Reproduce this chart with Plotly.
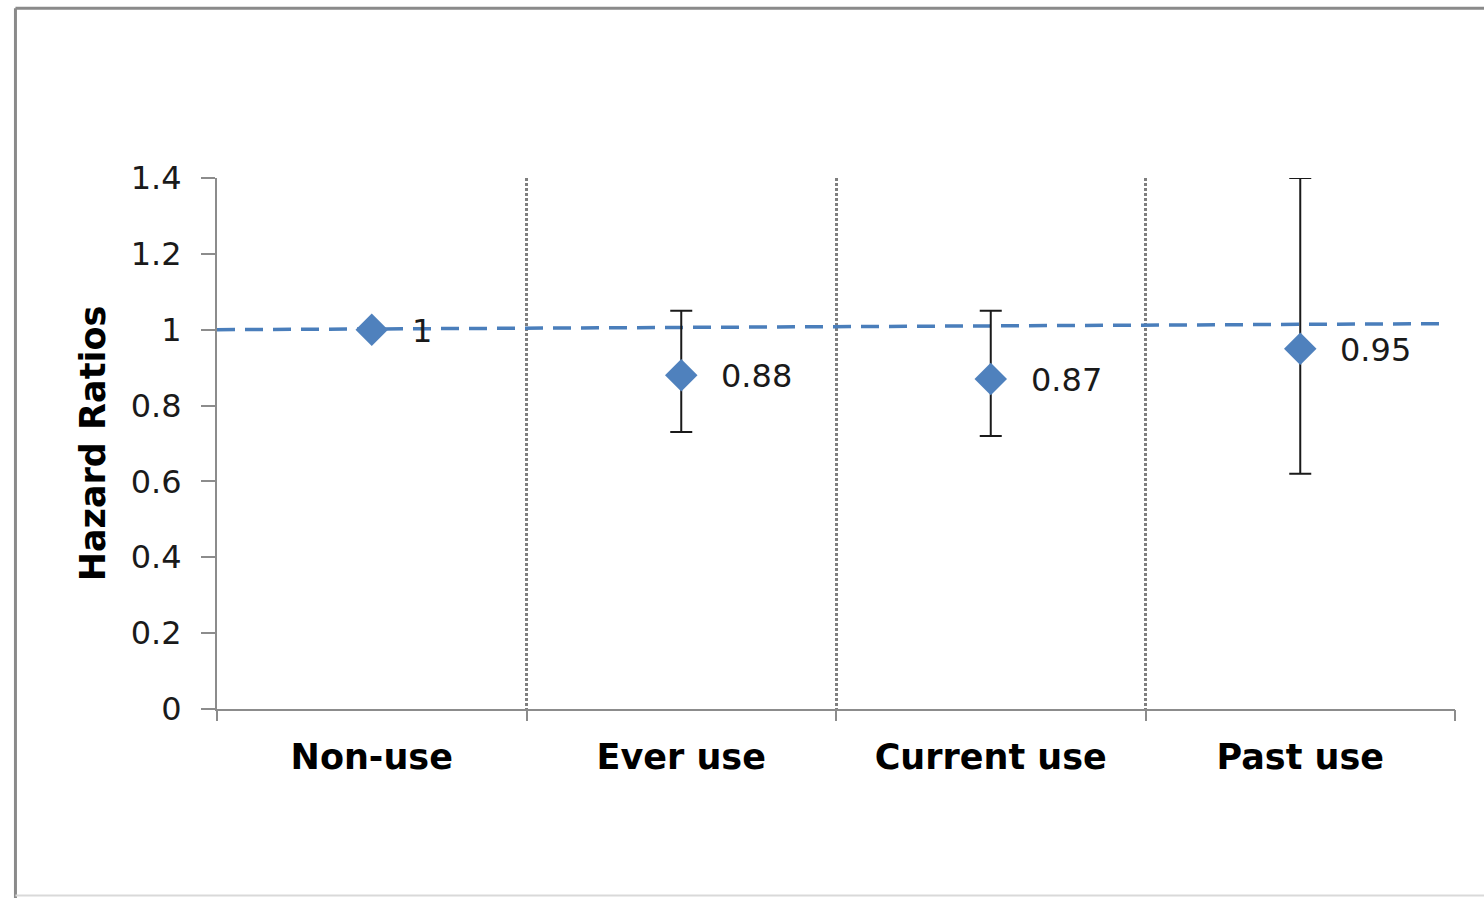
import plotly.graph_objects as go

# Hazard ratios with 95% confidence limits by usage group
categories = ["Non-use", "Ever use", "Current use", "Past use"]
hazard_ratio = [1.00, 0.88, 0.87, 0.95]
ci_upper = [None, 1.05, 1.05, 1.40]
ci_lower = [None, 0.73, 0.72, 0.62]
value_labels = ["1", "0.88", "0.87", "0.95"]

# Reference line near HR = 1 across the plot
ref_line_x = [0.0, 3.97]
ref_line_y = [1.000, 1.016]

y_ticks = [0, 0.2, 0.4, 0.6, 0.8, 1.0, 1.2, 1.4]

x_pos = [i + 0.5 for i in range(len(categories))]
err_plus = [0 if u is None else u - v for u, v in zip(ci_upper, hazard_ratio)]
err_minus = [0 if l is None else v - l for l, v in zip(ci_lower, hazard_ratio)]
err_visible = [u is not None for u in ci_upper]

AXIS_GREY = "#8c8c8c"
BLUE = "#4a7ebb"
MARKER_BLUE = "#4f81bd"

fig = go.Figure()

fig.add_trace(go.Scatter(
    x=ref_line_x, y=ref_line_y, mode="lines",
    line=dict(color=BLUE, width=3.5, dash="18px,10px"),
    hoverinfo="skip", showlegend=False,
))

fig.add_trace(go.Scatter(
    x=x_pos, y=hazard_ratio, mode="markers",
    marker=dict(symbol="diamond", size=25, color=MARKER_BLUE),
    error_y=dict(
        type="data", symmetric=False,
        array=[p if vis else 0 for p, vis in zip(err_plus, err_visible)],
        arrayminus=[m if vis else 0 for m, vis in zip(err_minus, err_visible)],
        color="#1a1a1a", thickness=2, width=11,
    ),
    showlegend=False,
))

for xp, yv, lab in zip(x_pos, hazard_ratio, value_labels):
    fig.add_annotation(
        x=xp, y=yv, text=lab, showarrow=False,
        xanchor="left", yanchor="middle", xshift=38, yshift=-1,
        font=dict(family="DejaVu Sans", size=32, color="#1a1a1a"),
    )

fig.update_layout(
    width=1484, height=898,
    margin=dict(l=217, r=29, t=178, b=189, autoexpand=False),
    paper_bgcolor="white", plot_bgcolor="white",
    font=dict(family="DejaVu Sans", color="#1a1a1a"),
    xaxis=dict(
        range=[0, 4], tickvals=x_pos, ticktext=categories,
        ticks="", showgrid=False, zeroline=False,
        showline=True, linecolor=AXIS_GREY, linewidth=2,
        tickfont=dict(family="DejaVu Sans", size=35, color="#000000", weight="bold"),
        ticklabelstandoff=16, fixedrange=True,
    ),
    xaxis2=dict(
        overlaying="x", anchor="y", side="bottom", range=[0, 4],
        tickvals=[0, 1, 2, 3, 4], ticktext=["", "", "", "", ""],
        ticks="outside", ticklen=11, tickwidth=2, tickcolor=AXIS_GREY,
        showgrid=False, zeroline=False, showline=False,
    ),
    xaxis3=dict(
        overlaying="x", anchor="y", side="bottom", range=[0, 4],
        tickvals=[1, 2, 3, 4], showticklabels=False, ticks="",
        showgrid=True, gridcolor="#7f7f7f", gridwidth=3, griddash="3px,2px",
        zeroline=False, showline=False,
    ),
    yaxis=dict(
        range=[0, 1.4], tickvals=y_ticks,
        ticks="outside", ticklen=14, tickwidth=2, tickcolor=AXIS_GREY,
        showline=True, linecolor=AXIS_GREY, linewidth=2,
        showgrid=False, zeroline=False,
        tickfont=dict(family="DejaVu Sans", size=32, color="#1a1a1a"),
        ticklabelstandoff=13,
        title=dict(text="Hazard Ratios", standoff=14,
                   font=dict(family="DejaVu Sans", size=35, color="#000000", weight="bold")),
        fixedrange=True,
    ),
)

# Empty helper traces so the overlay axes are rendered
fig.add_trace(go.Scatter(x=[None], y=[None], xaxis="x2", showlegend=False, hoverinfo="skip"))
fig.add_trace(go.Scatter(x=[None], y=[None], xaxis="x3", showlegend=False, hoverinfo="skip"))

# Chart frame border
fig.add_shape(type="line", xref="paper", yref="paper", x0=-0.1628, x1=-0.1628, y0=-0.36, y1=1.3195,
              line=dict(color="#8a8a8a", width=3), layer="above")
fig.add_shape(type="line", xref="paper", yref="paper", x0=-0.1628, x1=1.05, y0=1.3195, y1=1.3195,
              line=dict(color="#8a8a8a", width=3), layer="above")
fig.add_shape(type="line", xref="paper", yref="paper", x0=-0.1628, x1=1.05, y0=-0.3513, y1=-0.3513,
              line=dict(color="#d9d9d9", width=2), layer="above")

fig.write_html("out.html")
